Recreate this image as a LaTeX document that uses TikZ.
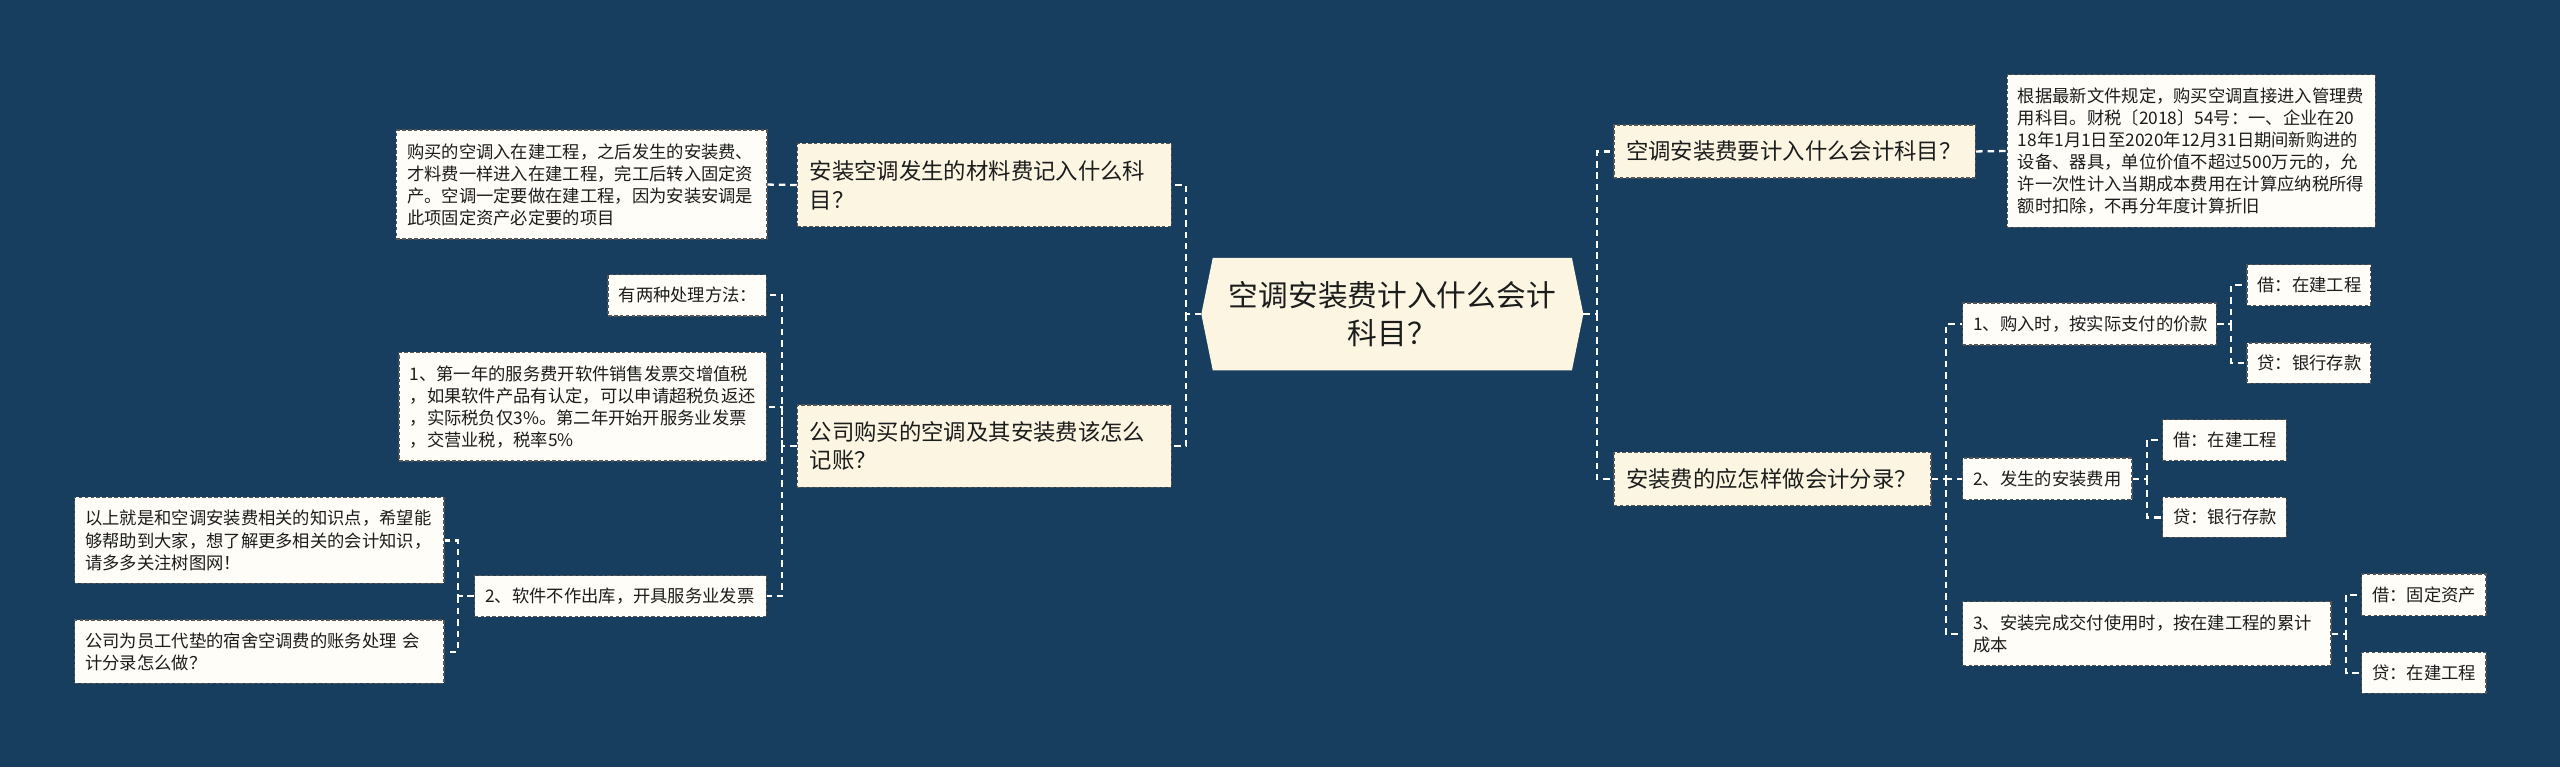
\documentclass[tikz,border=0pt]{standalone}
\usepackage{fontspec}
\newfontfamily\cjk{Noto Sans CJK SC}
\usetikzlibrary{backgrounds}
\definecolor{bgblue}{RGB}{23,62,94}
\definecolor{cream}{RGB}{251,245,226}
\definecolor{leaffill}{RGB}{254,253,247}
\definecolor{edgegray}{RGB}{85,85,85}
\definecolor{txt}{RGB}{28,28,28}
\tikzset{
  boxbase/.style={anchor=north west, draw=edgegray, line width=0.9pt,
    dash pattern=on 2.2pt off 1.4pt, text=txt, align=left, inner ysep=0pt},
  leaf/.style={boxbase, fill=leaffill, inner xsep=6.5pt,
    font=\cjk\fontsize{10.6pt}{13.5pt}\selectfont},
  topic/.style={boxbase, fill=cream, inner xsep=7.5pt,
    font=\cjk\fontsize{13.7pt}{17.6pt}\selectfont},
  centre/.style={align=center, text=txt, minimum width=233.6pt, minimum height=68.4pt,
    font=\cjk\fontsize{18.2pt}{23.3pt}\selectfont},
  link/.style={draw=white, line width=1.4pt, dash pattern=on 4pt off 3pt},
}
\begin{document}
\begin{tikzpicture}[x=1pt,y=-1pt]
\begin{scope}[on background layer]
\fill[bgblue] (0,0) rectangle (1568,470);
\end{scope}
\useasboundingbox (0,0) rectangle (1568,470);

% spine coordinates
\coordinate (sL) at (726.4,0);
\coordinate (sB) at (478.8,0);
\coordinate (sC) at (280.4,0);
\coordinate (sR) at (978,0);
\coordinate (sD) at (1191.9,0);
\coordinate (sE) at (1366.5,0);
\coordinate (sF) at (1314.9,0);
\coordinate (sG) at (1436.8,0);

% centre
\node[centre] (ctr) at (852.8,192.4) {空调安装费计入什么会计\\科目？};
\begin{scope}[on background layer]
\fill[cream] ([xshift=7pt]ctr.north west) -- (ctr.west) -- ([xshift=7pt]ctr.south west)
  -- ([xshift=-7pt]ctr.south east) -- (ctr.east) -- ([xshift=-7pt]ctr.north east) -- cycle;
\end{scope}

% left topics
\node[topic, minimum width=229pt, minimum height=51pt, text width=214pt] (l1a) at (488,87.4)
  {安装空调发生的材料费记入什么科\\目？};
\node[topic, minimum width=229pt, minimum height=50.5pt, text width=214pt] (l1b) at (488,247.5)
  {公司购买的空调及其安装费该怎么\\记账？};

% left leaves
\node[leaf, minimum width=226.8pt, minimum height=66.8pt, text width=213.8pt] (lA) at (242.4,79.2)
  {购买的空调入在建工程，之后发生的安装费、\\才料费一样进入在建工程，完工后转入固定资\\产。空调一定要做在建工程，因为安装安调是\\此项固定资产必定要的项目};
\node[leaf, minimum width=97pt, minimum height=25.2pt, text width=84pt] (two) at (372,167.8)
  {有两种处理方法：};
\node[leaf, minimum width=225pt, minimum height=66.6pt, text width=212pt] (first) at (244,215.4)
  {1、第一年的服务费开软件销售发票交增值税\\，如果软件产品有认定，可以申请超税负返还\\，实际税负仅3\%。第二年开始开服务业发票\\，交营业税，税率5\%};
\node[leaf, minimum width=178.6pt, minimum height=25.1pt, text width=165.6pt] (soft) at (290.3,352.2)
  {2、软件不作出库，开具服务业发票};
\node[leaf, minimum width=226.2pt, minimum height=52.7pt, text width=213.2pt] (above) at (45.3,304.2)
  {以上就是和空调安装费相关的知识点，希望能\\够帮助到大家，想了解更多相关的会计知识，\\请多多关注树图网！};
\node[leaf, minimum width=226.2pt, minimum height=38.8pt, text width=213.2pt] (company) at (45.3,379.3)
  {公司为员工代垫的宿舍空调费的账务处理 会\\计分录怎么做？};

% right topics
\node[topic, minimum width=221.5pt, minimum height=32.6pt, text width=206.5pt] (r1a) at (988,76)
  {空调安装费要计入什么会计科目？};
\node[topic, minimum width=194.4pt, minimum height=32.7pt, text width=179.4pt] (r1b) at (988,276.6)
  {安装费的应怎样做会计分录？};

% right leaves
\node[leaf, minimum width=225.5pt, minimum height=93.5pt, text width=212.5pt] (rtext) at (1229,45.3)
  {根据最新文件规定，购买空调直接进入管理费\\用科目。财税〔2018〕54号：一、企业在20\\18年1月1日至2020年12月31日期间新购进的\\设备、器具，单位价值不超过500万元的，允\\许一次性计入当期成本费用在计算应纳税所得\\额时扣除，不再分年度计算折旧};
\node[leaf, minimum width=155.3pt, minimum height=25.7pt, text width=142.3pt] (buy) at (1201.7,185.2)
  {1、购入时，按实际支付的价款};
\node[leaf, minimum width=75.7pt, minimum height=25.1pt, text width=62.7pt] (b1) at (1375.8,161.7)
  {借：在建工程};
\node[leaf, minimum width=75.7pt, minimum height=24.7pt, text width=62.7pt] (c1) at (1375.8,209.7)
  {贷：银行存款};
\node[leaf, minimum width=103.8pt, minimum height=25.5pt, text width=90.8pt] (inst) at (1201.7,280.1)
  {2、发生的安装费用};
\node[leaf, minimum width=75.8pt, minimum height=25.1pt, text width=62.8pt] (b2) at (1324.2,256.6)
  {借：在建工程};
\node[leaf, minimum width=75.8pt, minimum height=24.5pt, text width=62.8pt] (c2) at (1324.2,304.2)
  {贷：银行存款};
\node[leaf, minimum width=225.7pt, minimum height=39.2pt, text width=212.7pt] (done) at (1201.7,368.1)
  {3、安装完成交付使用时，按在建工程的累计\\成本};
\node[leaf, minimum width=76.2pt, minimum height=25.6pt, text width=63.2pt] (b3) at (1446.1,351.1)
  {借：固定资产};
\node[leaf, minimum width=76.2pt, minimum height=25.1pt, text width=63.2pt] (c3) at (1446.1,399.1)
  {贷：在建工程};

% connectors left
\draw[link] (ctr.west) -- (ctr.west -| sL) |- (l1a.east);
\draw[link] (ctr.west -| sL) |- (l1b.east);
\draw[link] (l1a.west) -- (lA.east);
\draw[link] (l1b.west) -- (l1b.west -| sB) |- (two.east);
\draw[link] (l1b.west -| sB) |- (first.east);
\draw[link] (l1b.west -| sB) |- (soft.east);
\draw[link] (soft.west) -- (soft.west -| sC) |- (above.east);
\draw[link] (soft.west -| sC) |- (company.east);

% connectors right
\draw[link] (ctr.east) -- (ctr.east -| sR) |- (r1a.west);
\draw[link] (ctr.east -| sR) |- (r1b.west);
\draw[link] (r1a.east) -- (rtext.west);
\draw[link] (r1b.east) -- (r1b.east -| sD) |- (buy.west);
\draw[link] (r1b.east -| sD) |- (inst.west);
\draw[link] (r1b.east -| sD) |- (done.west);
\draw[link] (buy.east) -- (buy.east -| sE) |- (b1.west);
\draw[link] (buy.east -| sE) |- (c1.west);
\draw[link] (inst.east) -- (inst.east -| sF) |- (b2.west);
\draw[link] (inst.east -| sF) |- (c2.west);
\draw[link] (done.east) -- (done.east -| sG) |- (b3.west);
\draw[link] (done.east -| sG) |- (c3.west);
\end{tikzpicture}
\end{document}
